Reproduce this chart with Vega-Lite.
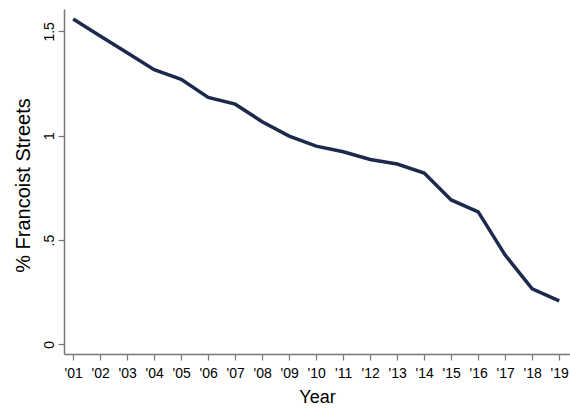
{
  "$schema": "https://vega.github.io/schema/vega-lite/v6.json",
  "width": 506,
  "height": 345,
  "autosize": "none",
  "padding": {"left": 64, "top": 9, "right": 0, "bottom": 54},
  "background": "white",
  "config": {"view": {"stroke": null}, "font": "Liberation Sans"},
  "data": {"values": [
    {"year": 2001, "pct": 1.559},
    {"year": 2002, "pct": 1.478},
    {"year": 2003, "pct": 1.397},
    {"year": 2004, "pct": 1.316},
    {"year": 2005, "pct": 1.270},
    {"year": 2006, "pct": 1.183},
    {"year": 2007, "pct": 1.151},
    {"year": 2008, "pct": 1.067},
    {"year": 2009, "pct": 0.998},
    {"year": 2010, "pct": 0.950},
    {"year": 2011, "pct": 0.923},
    {"year": 2012, "pct": 0.886},
    {"year": 2013, "pct": 0.864},
    {"year": 2014, "pct": 0.821},
    {"year": 2015, "pct": 0.692},
    {"year": 2016, "pct": 0.635},
    {"year": 2017, "pct": 0.428},
    {"year": 2018, "pct": 0.266},
    {"year": 2019, "pct": 0.209}
  ]},
  "mark": {"type": "line", "color": "#1c2a4e", "strokeWidth": 3.5, "clip": true},
  "encoding": {
    "x": {
      "field": "year", "type": "quantitative",
      "scale": {"domain": [2000.66, 2019.4], "nice": false, "zero": false},
      "axis": {
        "values": [2001,2002,2003,2004,2005,2006,2007,2008,2009,2010,2011,2012,2013,2014,2015,2016,2017,2018,2019],
        "labelExpr": "\"'\" + slice(format(datum.value, 'd'), 2)",
        "grid": false, "domainColor": "#777777", "domainWidth": 1.5,
        "tickColor": "#777777", "tickSize": 6, "tickWidth": 1.2,
        "labelFontSize": 14, "labelColor": "#000000", "labelBaseline": "alphabetic",
        "labelPadding": 17, "labelFlush": false, "labelOverlap": false,
        "title": "Year", "titleFontSize": 18, "titleFontWeight": "normal", "titleColor": "#000000",
        "titleBaseline": "alphabetic", "titleX": 253, "titleY": 48, "titleAnchor": "middle"
      }
    },
    "y": {
      "field": "pct", "type": "quantitative",
      "scale": {"domain": [-0.046, 1.607], "nice": false, "zero": false},
      "axis": {
        "values": [0, 0.5, 1, 1.5],
        "labelExpr": "datum.value == 0 ? '0' : datum.value == 0.5 ? '.5' : datum.value == 1 ? '1' : '1.5'",
        "grid": false, "domainColor": "#777777", "domainWidth": 1.5,
        "tickColor": "#777777", "tickSize": 6, "tickWidth": 1.2,
        "labelFontSize": 14, "labelColor": "#000000", "labelAngle": -90,
        "labelAlign": "center", "labelBaseline": "alphabetic", "labelPadding": 5,
        "labelFlush": false, "labelOverlap": false,
        "title": "% Francoist Streets", "titleFontSize": 20, "titleFontWeight": "normal", "titleColor": "#000000",
        "titleAngle": -90, "titleBaseline": "middle", "titleAlign": "center",
        "titleX": -41, "titleY": 176
      }
    }
  }
}
